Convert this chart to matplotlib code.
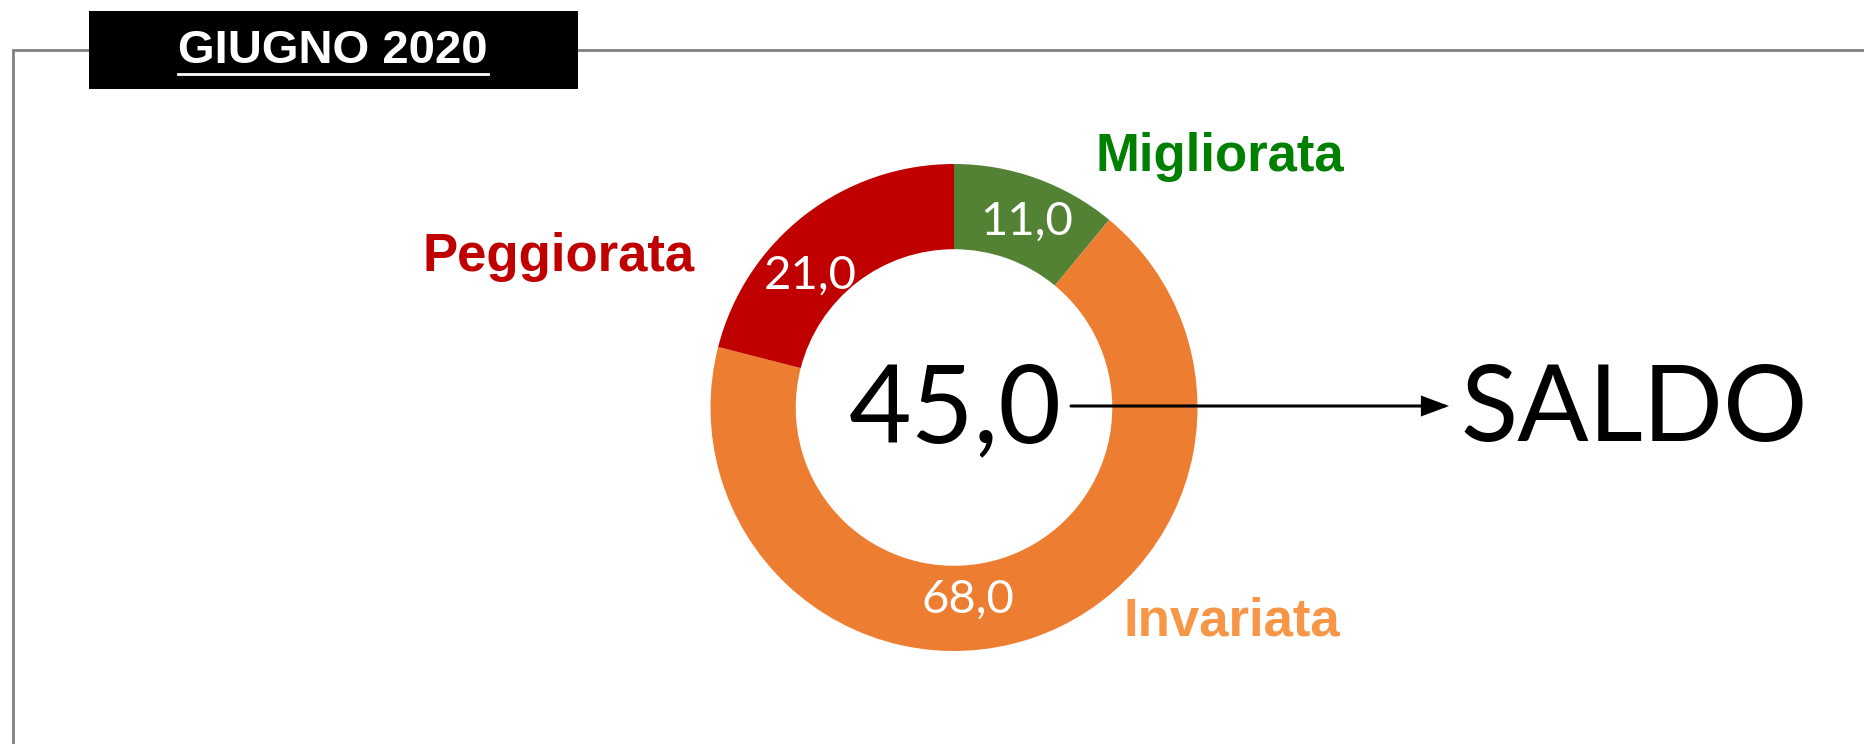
import matplotlib
matplotlib.use("Agg")
import matplotlib.pyplot as plt
from matplotlib.patches import Rectangle

# ---------------------------------------------
# DATI: giudizio sulla situazione, giugno 2020
# ---------------------------------------------

titolo = "GIUGNO 2020"
categorie = ["Migliorata", "Invariata", "Peggiorata"]
valori = [11.0, 68.0, 21.0]

colori_fette = ["#548235", "#ED7D31", "#C00000"]
colori_nomi = ["#008000", "#F79646", "#C00000"]

# saldo = migliorata + meta' degli invariati
saldo = valori[0] + valori[1] / 2


def num(v):
    return ("%.1f" % v).replace(".", ",")


W, H = 1865, 744


def Y(y):  # pixel dall'alto -> coordinate dati
    return H - y


fig = plt.figure(figsize=(W / 100, H / 100), dpi=100)
ax = fig.add_axes([0, 0, 1, 1])

# ---------------------------------------------
# CORNICE E TITOLO

ax.plot([13, 13, W], [0, Y(50), Y(50)], color="#808080", lw=2, solid_joinstyle="miter", zorder=1)
ax.add_patch(Rectangle((89, Y(89)), 489, 78, facecolor="black", edgecolor="none", zorder=2))
t = ax.text(333, Y(51), titolo, color="white", fontsize=34, fontweight="bold",
            family="Liberation Sans", ha="center", va="center", zorder=3)

# ---------------------------------------------
# CIAMBELLA

cx, cy = 954, Y(407.5)
R = 243.5
ax.pie(valori, colors=colori_fette, startangle=90, counterclock=False,
       radius=R, center=(cx, cy), wedgeprops=dict(width=R * 0.35, edgecolor="none"))

# etichette dei valori dentro le fette
pos_valori = [(1027, 222), (968, 600), (810, 276)]
for v, (x, y) in zip(valori, pos_valori):
    ax.text(x, Y(y), num(v), color="white", fontsize=34, family="Lato",
            ha="center", va="center")

# nomi delle categorie
pos_nomi = [(1220, 171), (1232, 636), (559, 271)]
for c, col, (x, y) in zip(categorie, colori_nomi, pos_nomi):
    ax.text(x, Y(y), c, color=col, fontsize=38, fontweight="bold", family="Liberation Sans",
            ha="center", va="baseline")

# saldo al centro
ax.text(955, Y(442), num(saldo), color="black", fontsize=78, family="Lato",
        ha="center", va="baseline")

ax.annotate("", xy=(1449, Y(406)), xytext=(1071, Y(406)),
            arrowprops=dict(arrowstyle="-|>,head_length=0.8,head_width=0.3", color="black",
                            lw=2.2, mutation_scale=20, shrinkA=0, shrinkB=0,
                            joinstyle="miter"))
ax.text(1460, Y(441), "SALDO", color="black", fontsize=76, family="Lato",
        ha="left", va="baseline")

ax.set_xlim(0, W)
ax.set_ylim(0, H)
ax.axis("off")

# sottolineatura del titolo
fig.canvas.draw()
bb = t.get_window_extent().transformed(ax.transData.inverted())
ax.plot([bb.x0, bb.x1], [Y(74), Y(74)], color="white", lw=2, zorder=3)

fig.savefig("out.png", dpi=100)
